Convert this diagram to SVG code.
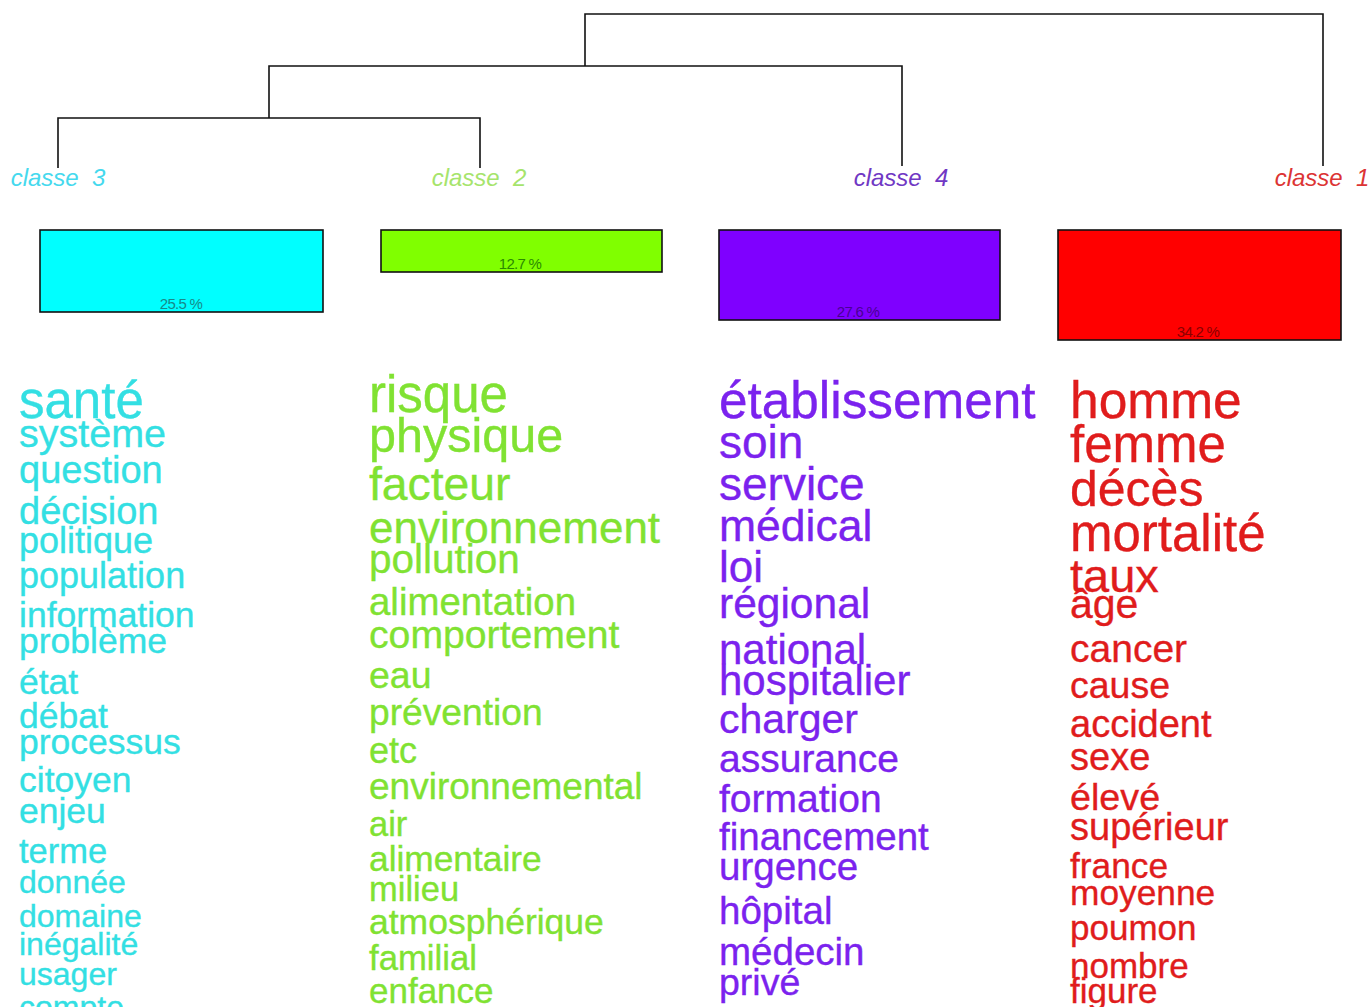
<svg xmlns="http://www.w3.org/2000/svg" width="1371" height="1007" viewBox="0 0 1371 1007">
<style>
text{font-family:"Liberation Sans",Arial,sans-serif}
.lbl{font-style:italic;font-size:24px;text-anchor:middle}
.pct{font-size:15px;text-anchor:middle;letter-spacing:-0.7px}
.bar{stroke:#111;stroke-width:1.6}
.w3{fill:#33dfe3;stroke:#33dfe3}.w2{fill:#80e232;stroke:#80e232}.w4{fill:#7b22ee;stroke:#7b22ee}.w1{fill:#e01c1c;stroke:#e01c1c}
.w3,.w2,.w4,.w1{stroke-width:0.35}
.edge{fill:none;stroke:#111;stroke-width:1.6}
</style>
<rect width="1371" height="1007" fill="#fff"/>
<g id="connectors">
<path class="edge" d="M585 66V14H1323V166"/>
<path class="edge" d="M269 118V66H902V166"/>
<path class="edge" d="M58 168V118H480V168"/>
</g>
<g id="classe3">
<text class="lbl" x="58" y="186" fill="#45d9ee" xml:space="preserve">classe  3</text>
<rect class="bar" x="40" y="230" width="283" height="82" fill="#00ffff"/>
<text class="pct" x="181" y="309" fill="#178a8a">25.5 %</text>
<g class="w3">
<text x="19" y="418" font-size="51">santé</text>
<text x="19" y="447" font-size="39.5">système</text>
<text x="19" y="483" font-size="38">question</text>
<text x="19" y="524" font-size="38">décision</text>
<text x="19" y="553" font-size="36">politique</text>
<text x="19" y="588" font-size="36">population</text>
<text x="19" y="627" font-size="35.5">information</text>
<text x="19" y="653" font-size="35.5">problème</text>
<text x="19" y="694" font-size="35.5">état</text>
<text x="19" y="728" font-size="35.5">débat</text>
<text x="19" y="754" font-size="35.5">processus</text>
<text x="19" y="792" font-size="35.5">citoyen</text>
<text x="19" y="823" font-size="35.5">enjeu</text>
<text x="19" y="863" font-size="34.5">terme</text>
<text x="19" y="893" font-size="32">donnée</text>
<text x="19" y="927" font-size="32">domaine</text>
<text x="19" y="955" font-size="32">inégalité</text>
<text x="19" y="985" font-size="32">usager</text>
<text x="19" y="1018" font-size="32">compte</text>
</g>
</g>
<g id="classe2">
<text class="lbl" x="479" y="186" fill="#a6e46c" xml:space="preserve">classe  2</text>
<rect class="bar" x="381" y="230" width="281" height="42" fill="#80ff00"/>
<text class="pct" x="520" y="269" fill="#2a8a00">12.7 %</text>
<g class="w2">
<text x="369" y="412" font-size="51">risque</text>
<text x="369" y="452" font-size="48.5">physique</text>
<text x="369" y="500" font-size="46.3">facteur</text>
<text x="369" y="543" font-size="44">environnement</text>
<text x="369" y="573" font-size="40.5">pollution</text>
<text x="369" y="615" font-size="38.4">alimentation</text>
<text x="369" y="648" font-size="39.2">comportement</text>
<text x="369" y="688" font-size="37.5">eau</text>
<text x="369" y="725" font-size="37.2">prévention</text>
<text x="369" y="763" font-size="36">etc</text>
<text x="369" y="799" font-size="37">environnemental</text>
<text x="369" y="836" font-size="34.5">air</text>
<text x="369" y="871" font-size="35.3">alimentaire</text>
<text x="369" y="901" font-size="34.5">milieu</text>
<text x="369" y="934" font-size="35.5">atmosphérique</text>
<text x="369" y="970" font-size="34.7">familial</text>
<text x="369" y="1003" font-size="35">enfance</text>
</g>
</g>
<g id="classe4">
<text class="lbl" x="901" y="186" fill="#7038c4" xml:space="preserve">classe  4</text>
<rect class="bar" x="719" y="230" width="281" height="90" fill="#7f00ff"/>
<text class="pct" x="858" y="317" fill="#4a0096">27.6 %</text>
<g class="w4">
<text x="719" y="418" font-size="51.3">établissement</text>
<text x="719" y="458" font-size="46">soin</text>
<text x="719" y="500" font-size="46">service</text>
<text x="719" y="541" font-size="44.5">médical</text>
<text x="719" y="582" font-size="44">loi</text>
<text x="719" y="618" font-size="42.5">régional</text>
<text x="719" y="664" font-size="42">national</text>
<text x="719" y="695" font-size="42">hospitalier</text>
<text x="719" y="733" font-size="41">charger</text>
<text x="719" y="772" font-size="39">assurance</text>
<text x="719" y="812" font-size="39">formation</text>
<text x="719" y="850" font-size="38.5">financement</text>
<text x="719" y="880" font-size="38.5">urgence</text>
<text x="719" y="924" font-size="38.5">hôpital</text>
<text x="719" y="965" font-size="38.5">médecin</text>
<text x="719" y="995" font-size="37.5">privé</text>
</g>
</g>
<g id="classe1">
<text class="lbl" x="1322" y="186" fill="#dc3434" xml:space="preserve">classe  1</text>
<rect class="bar" x="1058" y="230" width="283" height="110" fill="#ff0000"/>
<text class="pct" x="1198" y="337" fill="#8a0000">34.2 %</text>
<g class="w1">
<text x="1070" y="418" font-size="51.5">homme</text>
<text x="1070" y="462" font-size="51">femme</text>
<text x="1070" y="506" font-size="50">décès</text>
<text x="1070" y="551" font-size="51">mortalité</text>
<text x="1070" y="592" font-size="47">taux</text>
<text x="1070" y="618" font-size="41">âge</text>
<text x="1070" y="662" font-size="39">cancer</text>
<text x="1070" y="698" font-size="37.5">cause</text>
<text x="1070" y="737" font-size="38">accident</text>
<text x="1070" y="770" font-size="38">sexe</text>
<text x="1070" y="810" font-size="37.7">élevé</text>
<text x="1070" y="840" font-size="38">supérieur</text>
<text x="1070" y="878" font-size="35.3">france</text>
<text x="1070" y="905" font-size="35.3">moyenne</text>
<text x="1070" y="940" font-size="35">poumon</text>
<text x="1070" y="978" font-size="35">nombre</text>
<text x="1070" y="1003" font-size="35">figure</text>
</g>
</g>
</svg>
